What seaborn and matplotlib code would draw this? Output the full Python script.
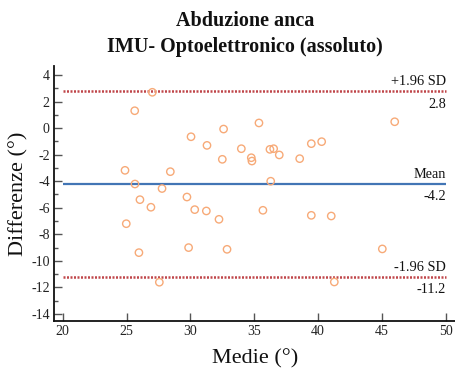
import numpy as np
import pandas as pd
import matplotlib
matplotlib.use("Agg")
import matplotlib.pyplot as plt
import seaborn as sns

# Bland-Altman data: mean of the two methods vs. their difference (degrees)
medie = [27.02, 25.64, 30.05, 31.30, 32.60, 33.99, 34.77, 34.82, 35.37, 32.50,
         24.88, 28.43, 25.66, 27.78, 46.00, 39.47, 40.28, 36.23, 36.52, 36.96,
         38.56, 36.29, 26.05, 26.91, 29.73, 30.34, 31.25, 32.24, 24.98, 25.97,
         29.86, 32.87, 27.57, 35.68, 39.47, 41.03, 45.03, 41.27]
differenze = [2.70, 1.31, -0.65, -1.30, -0.07, -1.55, -2.23, -2.48, 0.39, -2.35,
              -3.18, -3.28, -4.21, -4.55, 0.48, -1.17, -1.02, -1.60, -1.55, -2.02,
              -2.30, -4.00, -5.39, -5.96, -5.19, -6.14, -6.24, -6.87, -7.20, -9.38,
              -9.00, -9.13, -11.61, -6.19, -6.57, -6.62, -9.10, -11.59]

bias = -4.2
upper_loa = 2.8
lower_loa = -11.2
x_span = [20, 50]

x_ticks = [20, 25, 30, 35, 40, 45, 50]
y_ticks = [4, 2, 0, -2, -4, -6, -8, -10, -12, -14]

df = pd.DataFrame({"Medie": medie, "Differenze": differenze})

sns.set_theme(style="ticks")
plt.rcParams["font.family"] = ["Liberation Serif", "DejaVu Serif"]
plt.rcParams["axes.unicode_minus"] = False

fig = plt.figure(figsize=(4.56, 3.72), dpi=100)
ax = fig.add_axes([54 / 456, 51 / 372, 402 / 456, 255 / 372])

sns.scatterplot(data=df, x="Medie", y="Differenze", ax=ax, marker="o", s=28,
                facecolors="none", edgecolor="#f7aa78", linewidth=1.0, zorder=3)

red = "#c0464a"
blue = "#4275b5"
ax.hlines(upper_loa, *x_span, colors=red, linestyles=(0, (0.8, 0.6)), linewidth=1.8, zorder=2)
ax.hlines(lower_loa, *x_span, colors=red, linestyles=(0, (0.8, 0.6)), linewidth=1.8, zorder=2)
ax.hlines(bias, *x_span, colors=blue, linestyles="-", linewidth=1.6, zorder=2)

lab_kw = dict(ha="right", fontsize=10.3, color="#111111")
ax.text(x_span[1], upper_loa + 0.2, "+1.96 SD", va="bottom", **lab_kw)
ax.text(x_span[1], upper_loa - 0.55, f"{upper_loa:.1f}", va="top", **lab_kw)
ax.text(x_span[1], bias + 0.2, "Mean", va="bottom", **lab_kw)
ax.text(x_span[1], bias - 0.45, f"{bias:.1f}", va="top", **lab_kw)
ax.text(x_span[1], lower_loa + 0.2, "-1.96 SD", va="bottom", **lab_kw)
ax.text(x_span[1], lower_loa - 0.45, f"{lower_loa:.1f}", va="top", **lab_kw)

ax.set_xlim(19.32, 50.8)
ax.set_ylim(-14.53, 4.68)
ax.set_xticks(x_ticks)
ax.set_yticks(y_ticks)
ax.set_yticks([3, 1, -1, -3, -5, -7, -9, -11, -13], minor=True)
ax.tick_params(axis="both", which="major", direction="in", length=6, width=1.0,
               color="#555555", labelsize=10, labelcolor="#222222", pad=3)
ax.tick_params(axis="y", which="minor", direction="in", length=3, width=1.0,
               color="#555555")

sns.despine(ax=ax, top=True, right=True)
for side in ("left", "bottom"):
    ax.spines[side].set_linewidth(1.3)
    ax.spines[side].set_color("#111111")

ax.set_xlabel("Medie (°)", fontsize=16, labelpad=8, color="#111111")
ax.set_ylabel("Differenze (°)", fontsize=16, labelpad=2, color="#111111")

fig.text(245 / 456, 1 - 34 / 372, "Abduzione anca\nIMU- Optoelettronico (assoluto)",
         ha="center", va="center", fontsize=14.5, fontweight="bold",
         linespacing=1.45, color="#111111")

fig.savefig("out.png", dpi=100)
